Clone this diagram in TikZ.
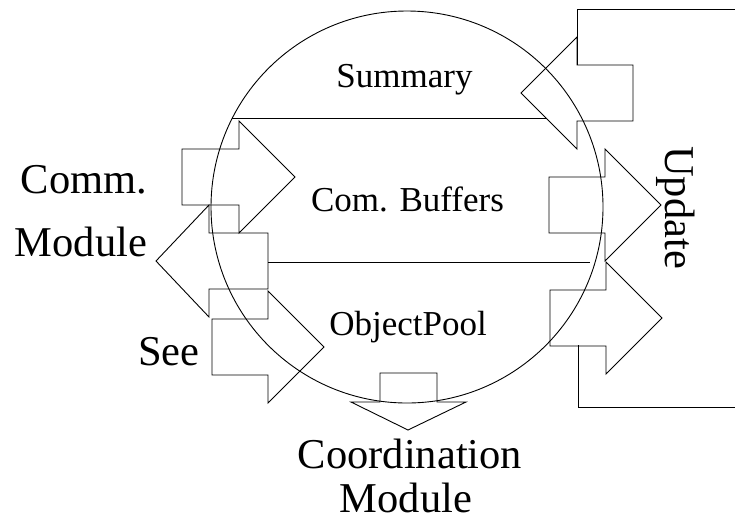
\documentclass[tikz,border=0pt]{standalone}
\usepackage{fontspec}
\setmainfont{Liberation Serif}
% horizontal block arrow: tail end x, head base x, tip x, centre y
\newcommand{\harrow}[5]{%
  \draw[arrowline] (#1,#4-28) coordinate (#5) -- (#2,#4-28) -- (#2,#4-56) -- (#3,#4)
    -- (#2,#4+56) -- (#2,#4+28) -- (#1,#4+28) -- cycle;}
\begin{document}
\begin{tikzpicture}[x=1pt,y=-1pt,
  arrowline/.style={draw=black,line width=0.9pt,line join=miter},
  thin/.style={draw=black,line width=0.9pt},
  big/.style={font=\fontsize{42.5}{46}\selectfont,inner sep=0pt,anchor=base},
  small/.style={font=\fontsize{35}{38}\selectfont,inner sep=0pt,anchor=base}]
\useasboundingbox (0,0) rectangle (735,523);

% the storage, split into three compartments
\draw[thin] (407,207) circle[radius=196];
\coordinate (c1a) at (232,118);
\coordinate (c1b) at (546,118);
\coordinate (c2a) at (268,262);
\coordinate (c2b) at (590,262);
\draw[thin] (c1a) -- (c1b);
\draw[thin] (c2a) -- (c2b);

% compartment labels
\node[small] (summary) at (404.5,87) {Summary};
\node[small] (buffers) at (407.5,211) {Com. Buffers};
\node[small] (pool) at (408,335) {ObjectPool};

% outside parties
\node[big] (comm1) at (84,193) {Comm.};
\node[big] (comm2) at (81,256) {Module};
\node[big] (see) at (169,365) {See};
\node[big] (coord1) at (410,468) {Coordination};
\node[big] (coord2) at (406,512) {Module};
\node[big,rotate=-90] (update) at (665,207.5) {Update};

% block arrows
\harrow{182}{239}{295}{177}{arrA}
\harrow{268}{209}{156}{261}{arrB}
\harrow{212}{268}{324}{347}{arrC}
\harrow{633}{577}{521}{93}{arrD}
\harrow{549}{605}{661}{205}{arrE}
\harrow{550}{606}{662}{318}{arrF}
\draw[arrowline] (380,402) -- (380,373) -- (437,373) -- (437,402)
  -- (466,402) -- (408,430) -- (351,402) -- cycle;

% bracket enclosing the update side
\coordinate (bt) at (577,65);
\coordinate (bb) at (578,345);
\draw[thin] (bt) -- (577,9) -- (735.5,9);
\draw[thin] (bb) -- (578,407) -- (735.5,407);
\end{tikzpicture}
\end{document}
